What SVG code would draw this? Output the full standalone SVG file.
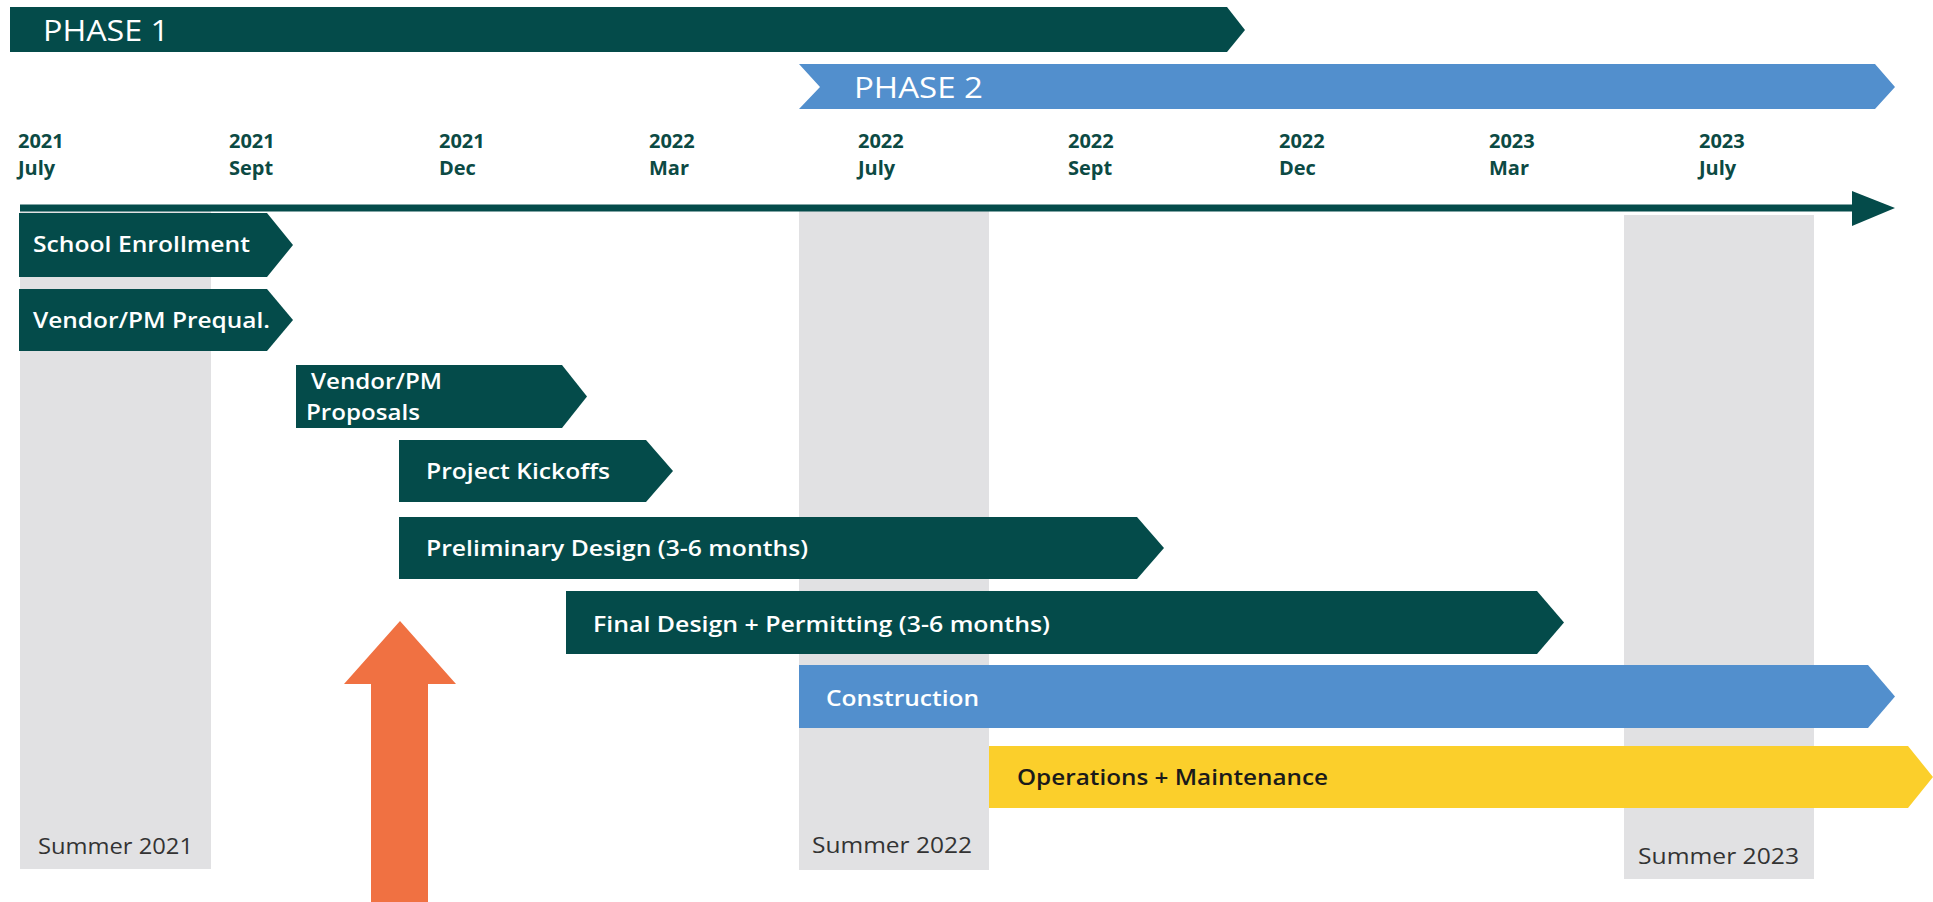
<svg xmlns="http://www.w3.org/2000/svg" width="1933" height="902" viewBox="0 0 1933 902">
<style>
.dk{fill:#044b4a}
.bl{fill:#528fcd}
.yl{fill:#fbcf2b}
.gr{fill:#e1e1e3}
.or{fill:#f07142}
text{font-family:"Open Sans","Noto Sans","Liberation Sans",sans-serif}
.lbl{fill:#ffffff;font-size:21px;font-weight:600}
.ph{fill:#ffffff;font-size:30px;font-weight:500}
.dt{fill:#0c4a44;font-size:20px;font-weight:700}
.sm{fill:#333333;font-size:21px;font-weight:400}
.ops{fill:#1a1a1a;font-size:21px;font-weight:600}
</style>
<rect width="1933" height="902" fill="#ffffff"/>
<g id="summers">
<g id="summer2021"><rect class="gr" x="20" y="210" width="191" height="659"/><text class="sm" x="38" y="854" textLength="155" lengthAdjust="spacingAndGlyphs">Summer 2021</text></g>
<g id="summer2022"><rect class="gr" x="799" y="211" width="190" height="659"/><text class="sm" x="812" y="853" textLength="160" lengthAdjust="spacingAndGlyphs">Summer 2022</text></g>
<g id="summer2023"><rect class="gr" x="1624" y="215" width="190" height="664"/><text class="sm" x="1638" y="864" textLength="161" lengthAdjust="spacingAndGlyphs">Summer 2023</text></g>
</g>
<g id="phase1"><polygon class="dk" points="10,7 1227,7 1245,30 1227,52 10,52"/><text class="ph" x="43" y="41" textLength="126" lengthAdjust="spacingAndGlyphs">PHASE 1</text></g>
<g id="phase2"><polygon class="bl" points="799,64 1875,64 1895,87 1875,109 799,109 820,87"/><text class="ph" x="854" y="98" textLength="129" lengthAdjust="spacingAndGlyphs">PHASE 2</text></g>
<g id="dates">
<text class="dt" x="18" y="148">2021</text><text class="dt" x="18" y="175">July</text>
<text class="dt" x="229" y="148">2021</text><text class="dt" x="229" y="175">Sept</text>
<text class="dt" x="439" y="148">2021</text><text class="dt" x="439" y="175">Dec</text>
<text class="dt" x="649" y="148">2022</text><text class="dt" x="649" y="175">Mar</text>
<text class="dt" x="858" y="148">2022</text><text class="dt" x="858" y="175">July</text>
<text class="dt" x="1068" y="148">2022</text><text class="dt" x="1068" y="175">Sept</text>
<text class="dt" x="1279" y="148">2022</text><text class="dt" x="1279" y="175">Dec</text>
<text class="dt" x="1489" y="148">2023</text><text class="dt" x="1489" y="175">Mar</text>
<text class="dt" x="1699" y="148">2023</text><text class="dt" x="1699" y="175">July</text>
</g>
<g id="connectors">
<line x1="20" y1="208" x2="1856" y2="208" stroke="#044b4a" stroke-width="7"/>
<polygon class="dk" points="1852,191 1895,208 1852,226"/>
<polygon class="or" points="400,621 456,684 428,684 428,902 371,902 371,684 344,684"/>
</g>
<g id="school-enrollment"><polygon class="dk" points="19,213 267,213 293,245 267,277 19,277"/><text class="lbl" x="33" y="252" textLength="217" lengthAdjust="spacingAndGlyphs">School Enrollment</text></g>
<g id="vendor-prequal"><polygon class="dk" points="19,289 267,289 293,320 267,351 19,351"/><text class="lbl" x="33" y="328" textLength="237" lengthAdjust="spacingAndGlyphs">Vendor/PM Prequal.</text></g>
<g id="vendor-proposals"><polygon class="dk" points="296,365 562,365 587,396.5 562,428 296,428"/><text class="lbl" x="311" y="389" textLength="131" lengthAdjust="spacingAndGlyphs">Vendor/PM</text><text class="lbl" x="306" y="420" textLength="114" lengthAdjust="spacingAndGlyphs">Proposals</text></g>
<g id="project-kickoffs"><polygon class="dk" points="399,440 646,440 673,471 646,502 399,502"/><text class="lbl" x="426" y="479" textLength="184" lengthAdjust="spacingAndGlyphs">Project Kickoffs</text></g>
<g id="preliminary-design"><polygon class="dk" points="399,517 1137,517 1164,548 1137,579 399,579"/><text class="lbl" x="426" y="556" textLength="382" lengthAdjust="spacingAndGlyphs">Preliminary Design (3-6 months)</text></g>
<g id="final-design"><polygon class="dk" points="566,591 1537,591 1564,622.5 1537,654 566,654"/><text class="lbl" x="593" y="632" textLength="457" lengthAdjust="spacingAndGlyphs">Final Design + Permitting (3-6 months)</text></g>
<g id="construction"><polygon class="bl" points="799,665 1868,665 1895,696.5 1868,728 799,728"/><text class="lbl" x="826" y="706" textLength="153" lengthAdjust="spacingAndGlyphs">Construction</text></g>
<g id="operations"><polygon class="yl" points="989,746 1908,746 1933,777 1908,808 989,808"/><text class="ops" x="1017" y="785" textLength="311" lengthAdjust="spacingAndGlyphs">Operations + Maintenance</text></g>
</svg>
